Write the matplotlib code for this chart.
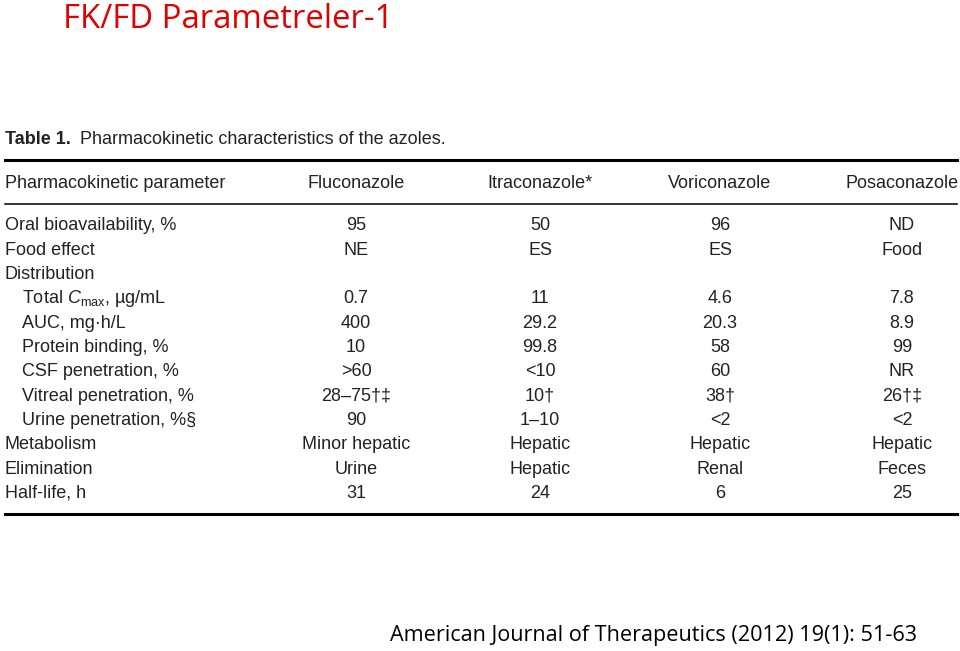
import matplotlib.pyplot as plt

plt.rcParams['font.family'] = ['Liberation Sans', 'DejaVu Sans']
plt.rcParams['mathtext.fontset'] = 'custom'
plt.rcParams['mathtext.rm'] = 'Liberation Sans'
plt.rcParams['mathtext.it'] = 'Liberation Sans:italic'

# tablo verisi
drugs = ['Fluconazole', 'Itraconazole*', 'Voriconazole', 'Posaconazole']
params = ['Oral bioavailability, %', 'Food effect', 'Distribution',
          'Total $\\mathit{C}_{\\mathrm{max}}$, \u00b5g/mL', 'AUC, mg\u00b7h/L',
          'Protein binding, %', 'CSF penetration, %', 'Vitreal penetration, %',
          'Urine penetration, %\u00a7', 'Metabolism', 'Elimination', 'Half-life, h']
indent = [0, 0, 0, 1, 1, 1, 1, 1, 1, 0, 0, 0]
fluconazole = ['95', 'NE', '', '0.7', '400', '10', '>60', '28\u201375\u2020\u2021', '90',
               'Minor hepatic', 'Urine', '31']
itraconazole = ['50', 'ES', '', '11', '29.2', '99.8', '<10', '10\u2020', '1\u201310',
                'Hepatic', 'Hepatic', '24']
voriconazole = ['96', 'ES', '', '4.6', '20.3', '58', '60', '38\u2020', '<2',
                'Hepatic', 'Renal', '6']
posaconazole = ['ND', 'Food', '', '7.8', '8.9', '99', 'NR', '26\u2020\u2021', '<2',
                'Hepatic', 'Feces', '25']
columns = [fluconazole, itraconazole, voriconazole, posaconazole]

fig = plt.figure(figsize=(9.6, 6.51), dpi=100)
ax = fig.add_axes([0, 0, 1, 1])
ax.set_xlim(0, 960)
ax.set_ylim(651, 0)
ax.axis('off')

# baslik
ax.text(63, 19, 'FK/FD Parametreler-1', color='#e00000', fontsize=23.7,
        family=['Open Sans', 'DejaVu Sans'], va='center', ha='left')

ax.text(5, 140, 'Table 1.', fontsize=13, weight='bold', va='center', color='#222222')
ax.text(80, 140, 'Pharmacokinetic characteristics of the azoles.', fontsize=13,
        va='center', color='#222222')

ax.plot([5, 957], [160, 160], color='black', lw=2.2)
ax.plot([5, 957], [204, 204], color='black', lw=1.1)
ax.plot([5, 957], [514, 514], color='black', lw=2.2)

col_x = [356, 540, 720, 902]
fs = 13
ax.text(5, 183, 'Pharmacokinetic parameter', fontsize=fs, va='center', color='#222222')
for x, d in zip(col_x, drugs):
    ax.text(x, 183, d, fontsize=fs, va='center', ha='center', color='#222222')

for i, p in enumerate(params):
    y = 226 + i * 24.3
    ax.text(5 + 17 * indent[i], y, p, fontsize=fs, va='center', color='#222222')
    for x, col in zip(col_x, columns):
        ax.text(x, y, col[i], fontsize=fs, va='center', ha='center', color='#222222')

ax.text(390, 636, 'American Journal of Therapeutics (2012) 19(1): 51-63', fontsize=15.6,
        family=['Open Sans', 'DejaVu Sans'], va='center', ha='left', color='black')

fig.savefig('out.png', dpi=100)
